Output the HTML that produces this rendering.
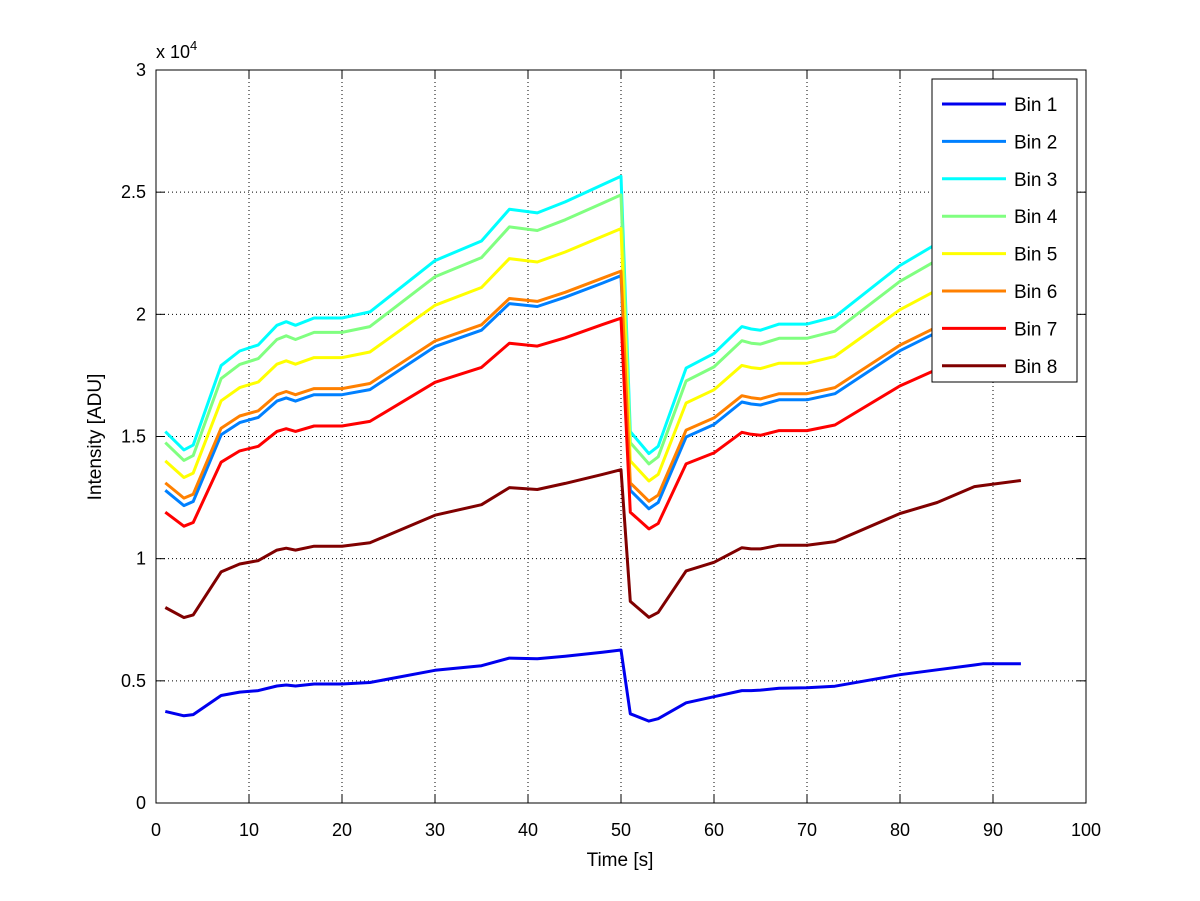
<!DOCTYPE html>
<html><head><meta charset="utf-8">
<style>
body{margin:0;background:#fff;}
svg{display:block;font-family:"Liberation Sans",sans-serif;}
</style></head>
<body>
<svg id="chart" width="1200" height="901" viewBox="0 0 1200 901">
<rect width="1200" height="901" fill="#fff"/>
<rect x="156" y="70" width="930" height="733" fill="#fff"/>
<g id="grid"></g>
<g id="series"></g>
<rect x="156" y="70" width="930" height="733" fill="none" stroke="#000" stroke-width="1"/>
<g id="ticks"></g>
<text x="156" y="58" font-size="18">x 10<tspan dy="-8" font-size="13">4</tspan></text>
<text x="620" y="866" font-size="19" text-anchor="middle">Time [s]</text>
<text transform="translate(101,437) rotate(-90)" font-size="19" text-anchor="middle">Intensity [ADU]</text>
<g id="legend"></g>
</svg>
<script>
const times=[1,3,4,7,9,11,13,14,15,17,20,23,30,35,38,41,44,48,50,51,53,54,57,60,63,64,65,67,70,73,80,84,88,89,93];
const bin1=[3.75,3.57,3.62,4.4,4.54,4.6,4.79,4.83,4.79,4.87,4.87,4.93,5.43,5.62,5.93,5.9,6.01,6.17,6.26,3.65,3.35,3.45,4.1,4.35,4.6,4.6,4.62,4.7,4.72,4.78,5.25,5.45,5.65,5.7,5.7];
const bin2=[12.8,12.17,12.34,15.07,15.57,15.78,16.45,16.58,16.45,16.71,16.71,16.92,18.68,19.35,20.44,20.32,20.7,21.28,21.58,12.8,12.04,12.3,14.98,15.49,16.41,16.33,16.29,16.5,16.5,16.75,18.51,19.27,20.02,20.11,20.53];
const bin3=[15.2,14.45,14.65,17.9,18.5,18.75,19.55,19.7,19.55,19.85,19.85,20.1,22.2,23.0,24.3,24.15,24.6,25.3,25.65,15.2,14.3,14.6,17.8,18.4,19.5,19.4,19.35,19.6,19.6,19.9,22.0,22.9,23.8,23.9,24.4];
const bin4=[14.75,14.02,14.22,17.37,17.95,18.19,18.97,19.12,18.97,19.26,19.26,19.5,21.54,22.32,23.58,23.43,23.87,24.55,24.89,14.75,13.88,14.17,17.27,17.85,18.92,18.82,18.78,19.02,19.02,19.31,21.35,22.22,23.09,23.19,23.67];
const bin5=[14.0,13.32,13.5,16.46,17.0,17.23,17.96,18.1,17.96,18.23,18.23,18.46,20.37,21.1,22.28,22.14,22.55,23.19,23.51,14.0,13.18,13.45,16.37,16.91,17.91,17.82,17.78,18.0,18.0,18.28,20.19,21.0,21.83,21.92,22.37];
const bin6=[13.1,12.48,12.64,15.34,15.84,16.05,16.71,16.84,16.71,16.96,16.96,17.17,18.91,19.57,20.65,20.53,20.9,21.48,21.77,13.1,12.35,12.6,15.26,15.76,16.67,16.59,16.54,16.75,16.75,17.0,18.74,19.49,20.24,20.32,20.74];
const bin7=[11.9,11.33,11.48,13.95,14.41,14.6,15.21,15.32,15.21,15.43,15.43,15.62,17.22,17.83,18.82,18.7,19.04,19.58,19.84,11.9,11.22,11.44,13.88,14.33,15.17,15.09,15.05,15.24,15.24,15.47,17.07,17.75,18.44,18.51,18.89];
const bin8=[8.0,7.59,7.7,9.46,9.78,9.92,10.35,10.43,10.35,10.51,10.51,10.65,11.78,12.21,12.91,12.83,13.08,13.45,13.64,8.25,7.6,7.8,9.5,9.85,10.45,10.4,10.4,10.55,10.55,10.7,11.85,12.3,12.95,13.0,13.2];
const seriesNames=["Bin 1","Bin 2","Bin 3","Bin 4","Bin 5","Bin 6","Bin 7","Bin 8"];
const xTicks=[0,10,20,30,40,50,60,70,80,90,100];
const yTicks=[0,5,10,15,20,25,30];
const yTickLabels=["0","0.5","1","1.5","2","2.5","3"];

const NS="http://www.w3.org/2000/svg";
const X0=156,X1=1086,Y0=803,Y1=70;
const xs=v=>X0+(v-0)/(100-0)*(X1-X0);
const ys=v=>Y0-(v-0)/(30-0)*(Y0-Y1);
function mk(tag,attrs,parent){const e=document.createElementNS(NS,tag);for(const k in attrs)e.setAttribute(k,attrs[k]);parent.appendChild(e);return e;}
const grid=document.getElementById('grid'),ticks=document.getElementById('ticks');
xTicks.forEach(t=>{
  const x=xs(t);
  if(t>0&&t<100){const g=mk('line',{x1:x,x2:x,y1:Y1,y2:Y0,stroke:'#000','stroke-width':1,'stroke-dasharray':'1,3'},grid);
  
  }
  const a=mk('line',{x1:x,x2:x,y1:Y0,y2:Y0-9,stroke:'#000'},ticks);
  
  
  const b=mk('line',{x1:x,x2:x,y1:Y1,y2:Y1+9,stroke:'#000'},ticks);
  
  
  const l=mk('text',{x:x,y:836,'font-size':18,'text-anchor':'middle'},ticks);l.textContent=t;
  
  
});
yTicks.forEach((t,i)=>{
  const y=ys(t);
  if(t>0&&t<30){const g=mk('line',{x1:X0,x2:X1,y1:y,y2:y,stroke:'#000','stroke-width':1,'stroke-dasharray':'1,3'},grid);
  
  }
  const a=mk('line',{x1:X0,x2:X0+9,y1:y,y2:y,stroke:'#000'},ticks);
  
  
  const b=mk('line',{x1:X1,x2:X1-9,y1:y,y2:y,stroke:'#000'},ticks);
  
  
  const l=mk('text',{x:146,y:y+6,'font-size':18,'text-anchor':'end'},ticks);l.textContent=yTickLabels[i];
  
  
});
const data=[bin1,bin2,bin3,bin4,bin5,bin6,bin7,bin8];
const colors=["#0000ee","#0080ff","#00ffff","#80ff80","#ffff00","#ff8000","#ff0000","#800000"];
const sg=document.getElementById('series');
data.forEach((arr,i)=>{
  const d=arr.map((v,j)=>(j?'L':'M')+xs(times[j]).toFixed(1)+','+ys(v).toFixed(1)).join(' ');
  const p=mk('path',{d:d,fill:'none',stroke:colors[i],'stroke-width':3,'stroke-linejoin':'round'},sg);
  
  
});
const lg=document.getElementById('legend');
const box=mk('rect',{x:932,y:79,width:145,height:303,fill:'#fff',stroke:'#000'},lg);


seriesNames.forEach((n,i)=>{
  const y=104+i*37.4;
  const ln=mk('line',{x1:942,x2:1006,y1:y,y2:y,stroke:colors[i],'stroke-width':3},lg);
  
  
  const t=mk('text',{x:1014,y:y+7,'font-size':19},lg);t.textContent=n;
  
  
});
</script>
</body></html>
